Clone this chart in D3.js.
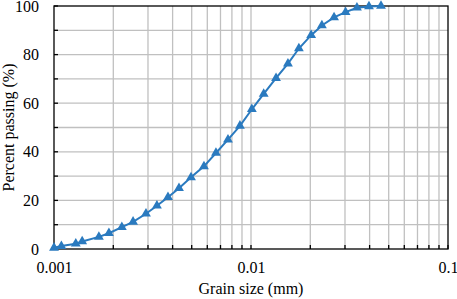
<!DOCTYPE html>
<html>
<head>
<meta charset="utf-8">
<script src="https://cdn.jsdelivr.net/npm/d3@7"></script>
<style>
  body { margin: 0; background: #fff; }
  .axis text { font-family: "Liberation Serif", "Times New Roman", serif; font-size: 16px; fill: #000; }
  .title { font-family: "Liberation Serif", "Times New Roman", serif; font-size: 16px; fill: #000; }
</style>
</head>
<body>
<div id="chart"></div>
<script>
// grain size (mm) and percent passing
var grainSize = [0.001, 0.00109, 0.00129, 0.00139, 0.00169, 0.0019, 0.00221, 0.00252, 0.00293,
  0.00333, 0.00379, 0.00431, 0.00496, 0.00577, 0.00664, 0.00764, 0.00879, 0.0101, 0.0116,
  0.0134, 0.0154, 0.0175, 0.0202, 0.0229, 0.0264, 0.0302, 0.0345, 0.0397, 0.0457];
var passing = [0.5, 1.2, 2.2, 3.1, 5, 6.5, 9, 11.2, 14.5,
  17.8, 21.3, 25, 29.5, 34, 39.5, 45, 50.7, 57.5, 63.8,
  70.3, 76.3, 82.5, 88, 92, 95.3, 97.5, 99.3, 99.8, 100];
var xTicks = [0.001, 0.01, 0.1];
var yTicks = [0, 20, 40, 60, 80, 100];

var margin = { top: 6, right: 9, bottom: 50, left: 54 };
var width = 457 - margin.left - margin.right,
    height = 299 - margin.top - margin.bottom;

var svg = d3.select("#chart").append("svg")
    .attr("width", 457)
    .attr("height", 299)
  .append("g")
    .attr("transform", "translate(" + margin.left + "," + margin.top + ")");

var x = d3.scaleLog()
    .domain([0.001, 0.1])
    .range([0, width]);

var y = d3.scaleLinear()
    .domain([0, 100])
    .range([height, 0]);

// minor log ticks
var minor = x.ticks().filter(function(d) { return xTicks.indexOf(d) < 0; });

// grid
svg.append("g").selectAll("line.vg").data(minor.concat([0.01])).enter()
    .append("line")
    .attr("x1", function(d) { return x(d); })
    .attr("x2", function(d) { return x(d); })
    .attr("y1", 0).attr("y2", height)
    .attr("stroke", "#c0c0c0").attr("stroke-width", 1.3);

svg.append("g").selectAll("line.hg").data(d3.range(10, 100, 10)).enter()
    .append("line")
    .attr("x1", 0).attr("x2", width)
    .attr("y1", function(d) { return y(d); })
    .attr("y2", function(d) { return y(d); })
    .attr("stroke", "#c0c0c0").attr("stroke-width", 1.3);

// frame
svg.append("rect")
    .attr("width", width).attr("height", height)
    .attr("fill", "none").attr("stroke", "#000").attr("stroke-width", 1.3);

// axes
var xAxis = d3.axisBottom(x).tickValues(xTicks).tickSize(0).tickPadding(13)
    .tickFormat(function(d) { return d3.format("")(d); });
var gx = svg.append("g").attr("class", "x-axis axis")
    .attr("transform", "translate(0," + height + ")")
    .call(xAxis);
gx.select(".domain").remove();

// inner minor ticks on x axis
svg.append("g").selectAll("line").data(minor.concat(xTicks)).enter()
    .append("line")
    .attr("x1", function(d) { return x(d); })
    .attr("x2", function(d) { return x(d); })
    .attr("y1", height).attr("y2", height - 4)
    .attr("stroke", "#000").attr("stroke-width", 1.3);

var yAxis = d3.axisLeft(y).tickValues(yTicks).tickSize(0).tickPadding(15);
var gy = svg.append("g").attr("class", "y-axis axis").call(yAxis);
gy.select(".domain").remove();

svg.append("g").selectAll("line").data(d3.range(0, 101, 10)).enter()
    .append("line")
    .attr("x1", 0).attr("x2", 4)
    .attr("y1", function(d) { return y(d); })
    .attr("y2", function(d) { return y(d); })
    .attr("stroke", "#000").attr("stroke-width", 1.3);

// titles
svg.append("text").attr("class", "title")
    .attr("x", width / 2).attr("y", height + 45)
    .attr("text-anchor", "middle")
    .text("Grain size (mm)");

svg.append("text").attr("class", "title")
    .attr("transform", "translate(" + (-40) + "," + (height / 2) + ") rotate(-90)")
    .attr("text-anchor", "middle")
    .text("Percent passing (%)");

// data
var data = grainSize.map(function(d, i) { return { d: d, p: passing[i] }; });
var color = "#2a7abf";

svg.append("path").datum(data)
    .attr("fill", "none")
    .attr("stroke", color)
    .attr("stroke-width", 2)
    .attr("d", d3.line()
      .x(function(d) { return x(d.d); })
      .y(function(d) { return y(d.p); }));

svg.selectAll(".pt").data(data).enter()
    .append("path")
    .attr("class", "pt")
    .attr("transform", function(d) { return "translate(" + x(d.d) + "," + y(d.p) + ")"; })
    .attr("d", d3.symbol().type(d3.symbolTriangle).size(42))
    .attr("fill", color);
</script>
</body>
</html>
